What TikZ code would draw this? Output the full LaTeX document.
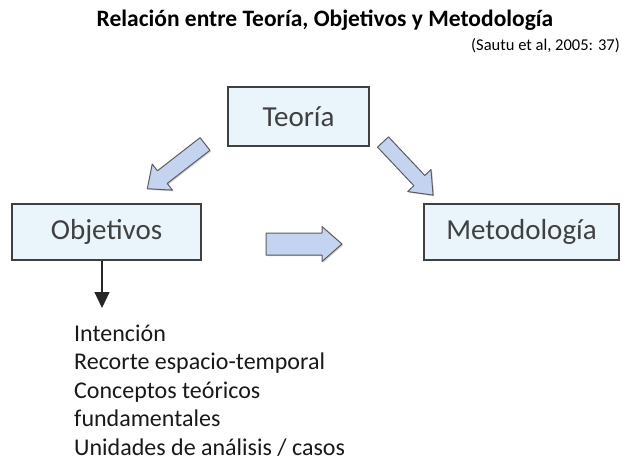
\documentclass[tikz,border=0pt]{standalone}
\usepackage{fontspec}
\setmainfont{Carlito}
\usetikzlibrary{arrows.meta,shadows}
\definecolor{boxfill}{RGB}{234,244,251}
\definecolor{boxline}{RGB}{64,64,64}
\definecolor{arrfill}{RGB}{196,211,240}
\definecolor{txtgray}{RGB}{64,64,64}
\tikzset{
  pics/blockarrow/.style n args={4}{code={%
    \draw[barrow] (0,-#2) -- ({#1-#4},-#2) -- ({#1-#4},-#3) -- (#1,0) -- ({#1-#4},#3) -- ({#1-#4},#2) -- (0,#2) -- cycle;
  }}
}
\begin{document}
\begin{tikzpicture}[x=1pt,y=-1pt,
  box/.style={draw=boxline, line width=1.2pt, fill=boxfill, text=txtgray,
    font=\fontsize{29}{33}\selectfont, minimum height=56pt, inner sep=0pt},
  barrow/.style={draw=boxline!85, line width=1pt, fill=arrfill, line join=round,
    drop shadow={shadow xshift=1.2pt, shadow yshift=-1.2pt, opacity=0.35}},
  conn/.style={line width=1.2pt, draw=black!85, -{Triangle[width=15pt,length=16pt]}}
]
\useasboundingbox (0,0) rectangle (622,461);
\fill[white] (0,0) rectangle (622,461);
\node[font=\fontsize{23.5}{27}\selectfont\bfseries, anchor=base, inner sep=0pt] (title) at (325,26) {Relación entre Teoría, Objetivos y Metodología};
\node[font=\fontsize{16.5}{18}\selectfont, anchor=base east, inner sep=0pt] (cite) at (620,50) {(Sautu et al, 2005: 37)};
\node[box, minimum width=141pt, minimum height=59pt] (teo) at (298.5,116.5) {Teoría};
\node[box, minimum width=189pt] (obj) at (106.5,232) {Objetivos};
\node[box, minimum width=195pt] (met) at (521.5,232) {Metodología};
\pic[rotate=-142.2] at (205,144) {blockarrow={73}{8}{16.5}{19}};
\pic[rotate=-46.7] at (383,142) {blockarrow={73}{7.5}{16}{20}};
\pic at (266,244) {blockarrow={76}{11}{17.5}{20}};
\coordinate (vend) at (102,308);
\draw[conn] (obj.south -| vend) -- (vend);
\node[anchor=base west, align=left, inner sep=0pt, text=black!90,
  font=\fontsize{24}{28.5}\selectfont] (list) at (74,455)
  {Intención\\Recorte espacio-temporal\\Conceptos teóricos\\fundamentales\\Unidades de análisis / casos};
\end{tikzpicture}
\end{document}
